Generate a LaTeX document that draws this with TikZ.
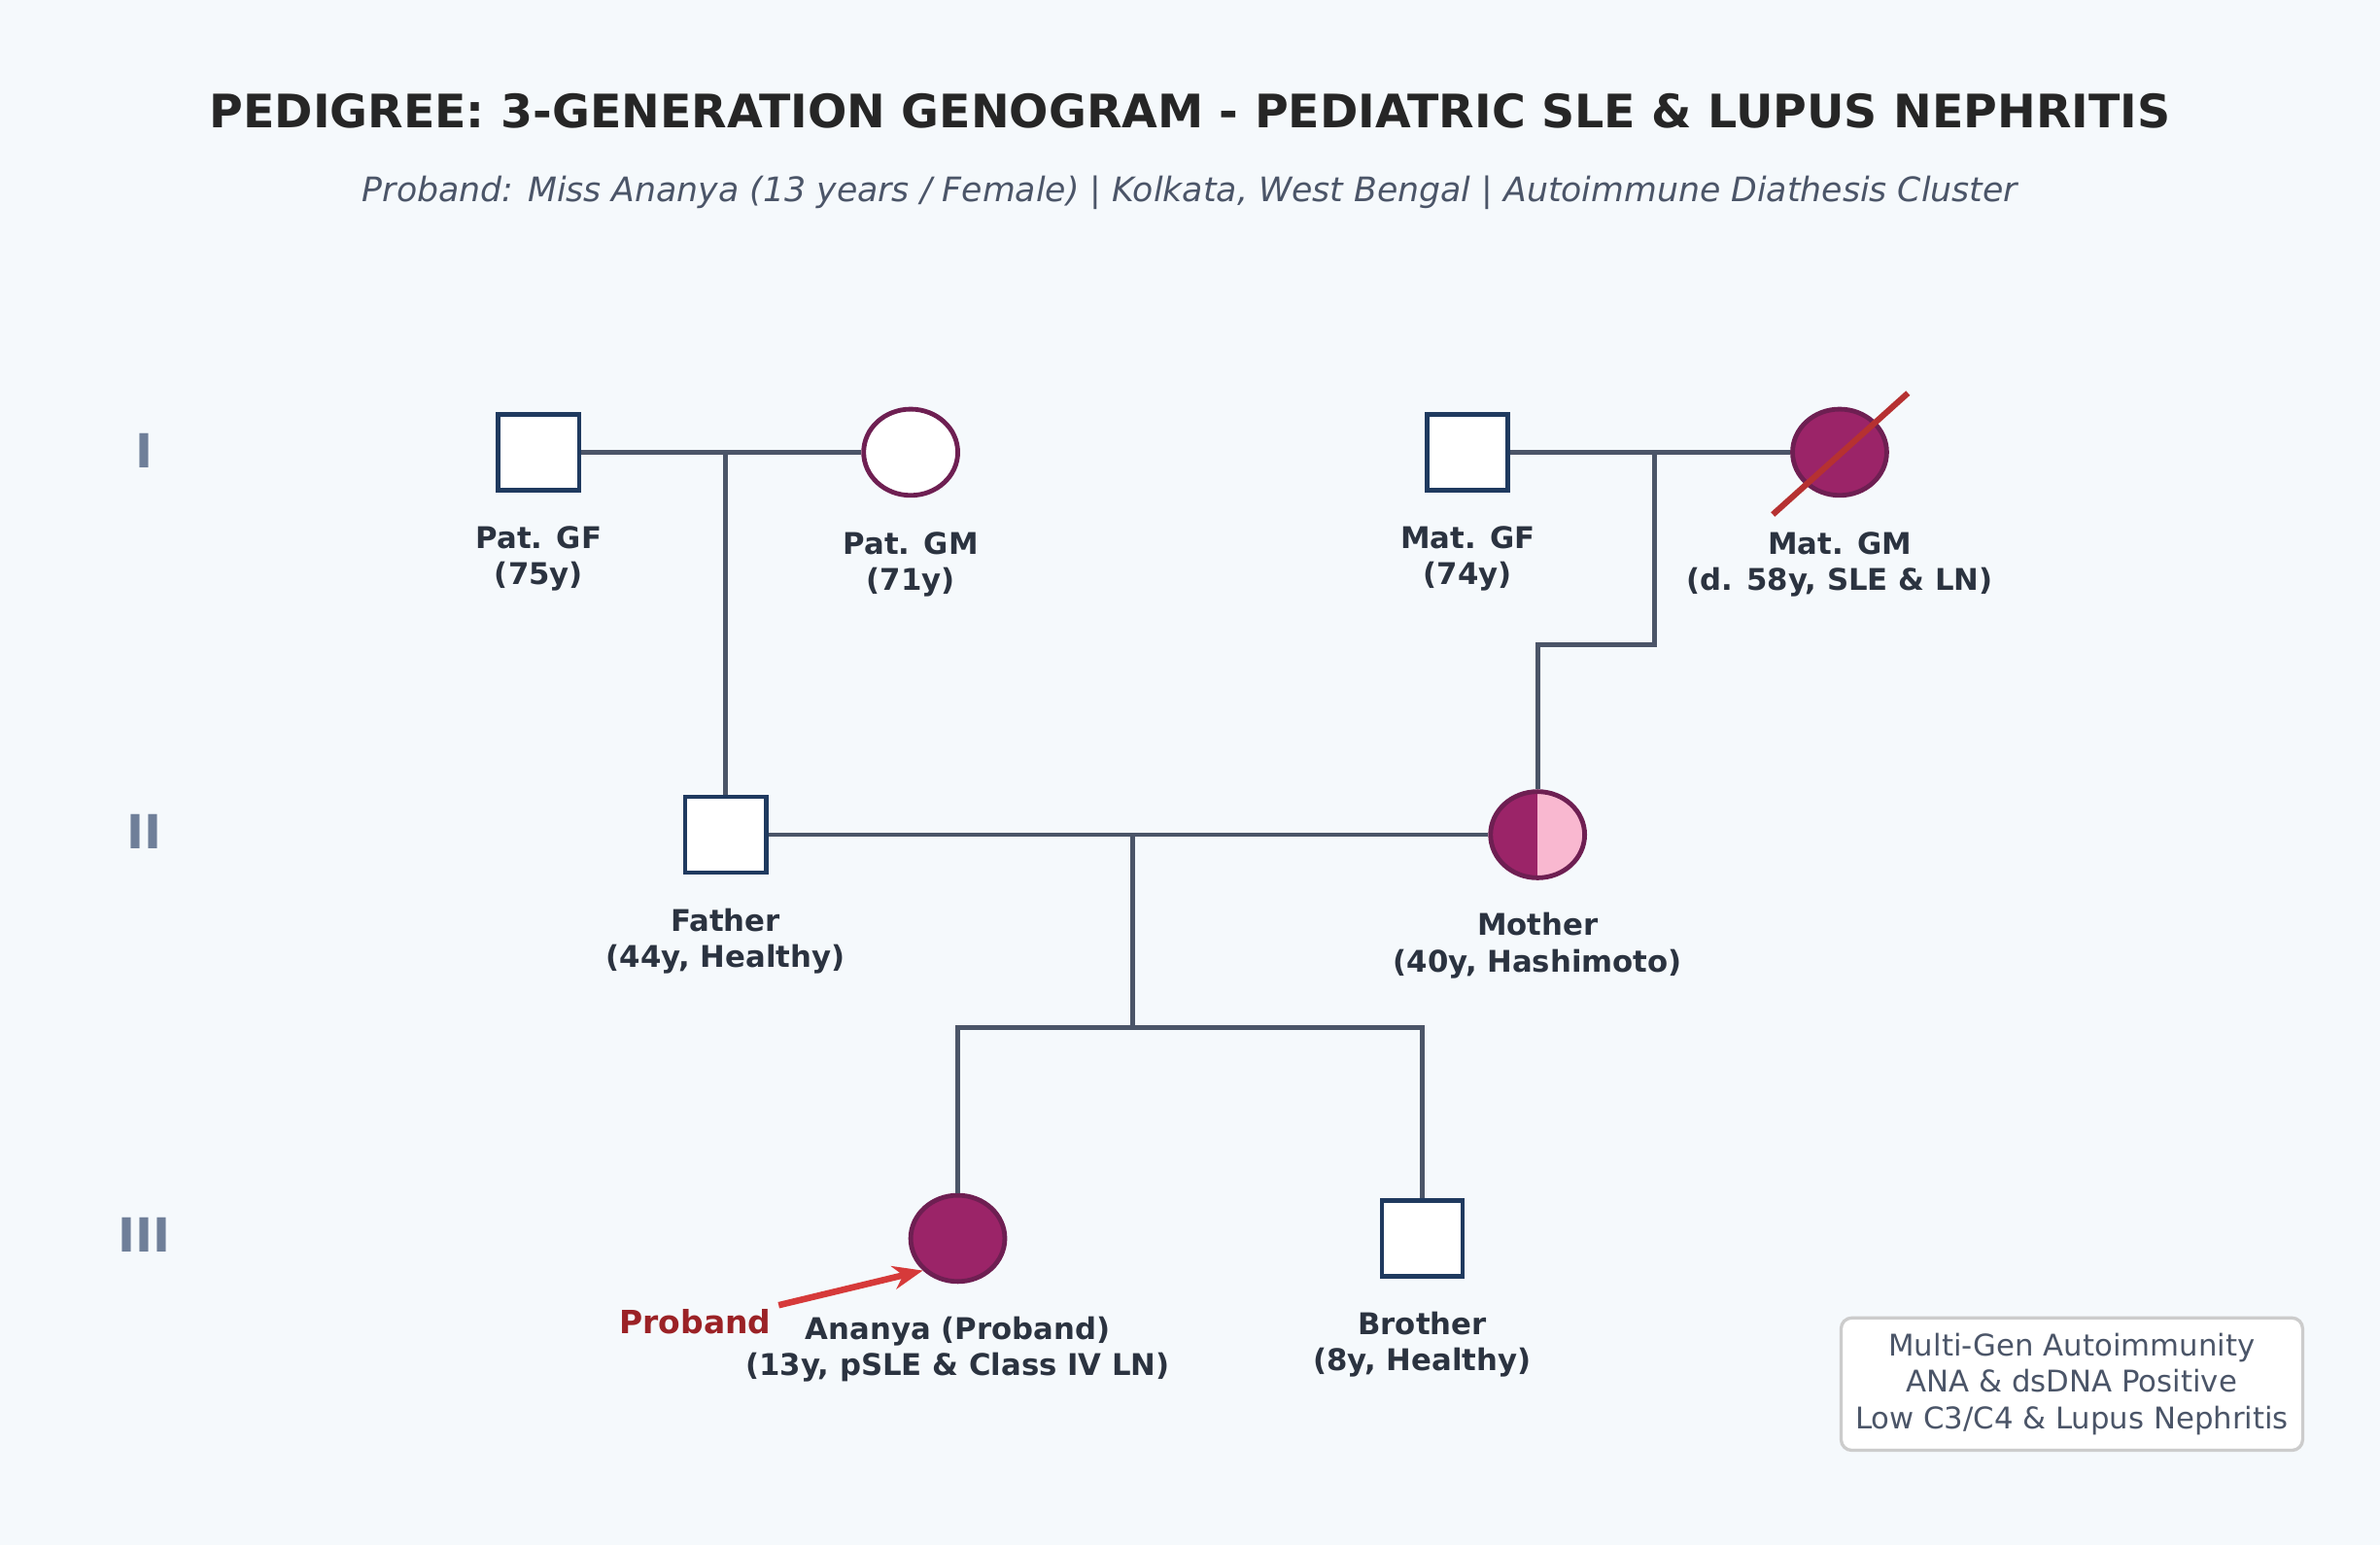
\documentclass[tikz,border=0pt]{standalone}
\usepackage{fontspec}
\setmainfont{DejaVu Sans}
\usetikzlibrary{shapes.geometric,arrows.meta}
\definecolor{bgc}{HTML}{F5F9FC}
\definecolor{navy}{HTML}{1F3A5F}
\definecolor{plum}{HTML}{6E1F52}
\definecolor{aff}{HTML}{9B2468}
\definecolor{pinkc}{HTML}{F9B8D0}
\definecolor{linec}{HTML}{4B5568}
\definecolor{txt}{HTML}{2B3340}
\definecolor{genc}{HTML}{6F7F99}
\definecolor{redc}{HTML}{D63A3A}
\definecolor{darkred}{HTML}{9B2226}
\tikzset{male/.style = {rectangle, line width=2.2pt, draw=navy, fill=white, minimum width=1.33cm, minimum height=1.25cm, inner sep=0pt},
         fem/.style  = {ellipse, line width=2.2pt, draw=plum, fill=white, minimum width=1.55cm, minimum height=1.42cm, inner sep=0pt},
         affd/.style = {fem, fill=aff},
         half/.style = {fem, fill=pinkc, path picture={\fill[aff] (path picture bounding box.south west) rectangle (path picture bounding box.north);}},
         lbl/.style  = {font=\bfseries\fontsize{14}{17}\selectfont, text=txt, align=center},
         gen/.style  = {font=\bfseries\fontsize{22}{26}\selectfont, text=genc},
         ln/.style   = {line width=2.2pt, draw=linec}}

\begin{document}
\begin{tikzpicture}[x=0.025cm, y=-0.025cm]
  \fill[bgc] (0,0) rectangle (1568,1018);
  \useasboundingbox (0,0) rectangle (1568,1018);
  % titles
  \node[font=\bfseries\fontsize{21.6}{26}\selectfont, text=black!85] (title) at (784,73) {PEDIGREE: 3-GENERATION GENOGRAM - PEDIATRIC SLE \& LUPUS NEPHRITIS};
  \node[font=\itshape\fontsize{15.8}{18}\selectfont, text=linec] (sub) at (784,127) {Proband: Miss Ananya (13 years / Female) | Kolkata, West Bengal | Autoimmune Diathesis Cluster};
  % generations
  \node[gen] (g1) at (95,297) {I};
  \node[gen] (g2) at (95,548) {II};
  \node[gen] (g3) at (95,814) {III};
  % individuals
  \node[male] (pgf) at (355,298) {};
  \node[fem]  (pgm) at (600,298) {};
  \node[male] (mgf) at (967,298) {};
  \node[affd] (mgm) at (1212,298) {};
  \node[male] (fa)  at (478,550) {};
  \node[half] (mo)  at (1013,550) {};
  \node[affd] (pb)  at (631,816) {};
  \node[male] (br)  at (937,816) {};
  % labels
  \node[lbl] at (355,368) {Pat. GF\\(75y)};
  \node[lbl] at (600,372) {Pat. GM\\(71y)};
  \node[lbl] at (967,368) {Mat. GF\\(74y)};
  \node[lbl] at (1212,372) {Mat. GM\\(d. 58y, SLE \& LN)};
  \node[lbl] at (478,620) {Father\\(44y, Healthy)};
  \node[lbl] at (1013,623) {Mother\\(40y, Hashimoto)};
  \node[lbl] at (631,889) {Ananya (Proband)\\(13y, pSLE \& Class IV LN)};
  \node[lbl] at (937,886) {Brother\\(8y, Healthy)};
  % connectors
  \coordinate (pm) at (478,298);
  \coordinate (mm) at (1090,298);
  \coordinate (mk) at (1090,425);
  \coordinate (mk2) at (1013,425);
  \coordinate (cm) at (746,550);
  \coordinate (sb) at (746,677);
  \draw[ln] (pgf) -- (pgm);
  \draw[ln] (pm) -- (fa);
  \draw[ln] (mgf) -- (mgm);
  \draw[ln] (mm) -- (mk) -- (mk2) -- (mo);
  \draw[ln] (fa) -- (mo);
  \draw[ln] (cm) -- (sb);
  \draw[ln] (pb) |- (sb) -| (br);
  % deceased mark
  \coordinate (d1) at (1168,339);
  \coordinate (d2) at (1257,259);
  \draw[line width=2.8pt, draw=redc!85!black] (d1) -- (d2);
  % proband arrow
  \node[font=\bfseries\fontsize{15}{18}\selectfont, text=darkred] (plbl) at (458,871) {Proband};
  \coordinate (pa) at (513,860);
  \draw[line width=3pt, draw=redc, -{Stealth[length=14pt, width=11pt]}] (pa) -- (pb.south west);
  % summary box
  \node[draw=black!20, line width=1.5pt, rounded corners=5pt, fill=white, align=center, text=linec,
        font=\fontsize{14}{17}\selectfont, minimum width=7.6cm, minimum height=2.18cm] (box) at (1365,912)
        {Multi-Gen Autoimmunity\\ANA \& dsDNA Positive\\Low C3/C4 \& Lupus Nephritis};
\end{tikzpicture}
\end{document}
